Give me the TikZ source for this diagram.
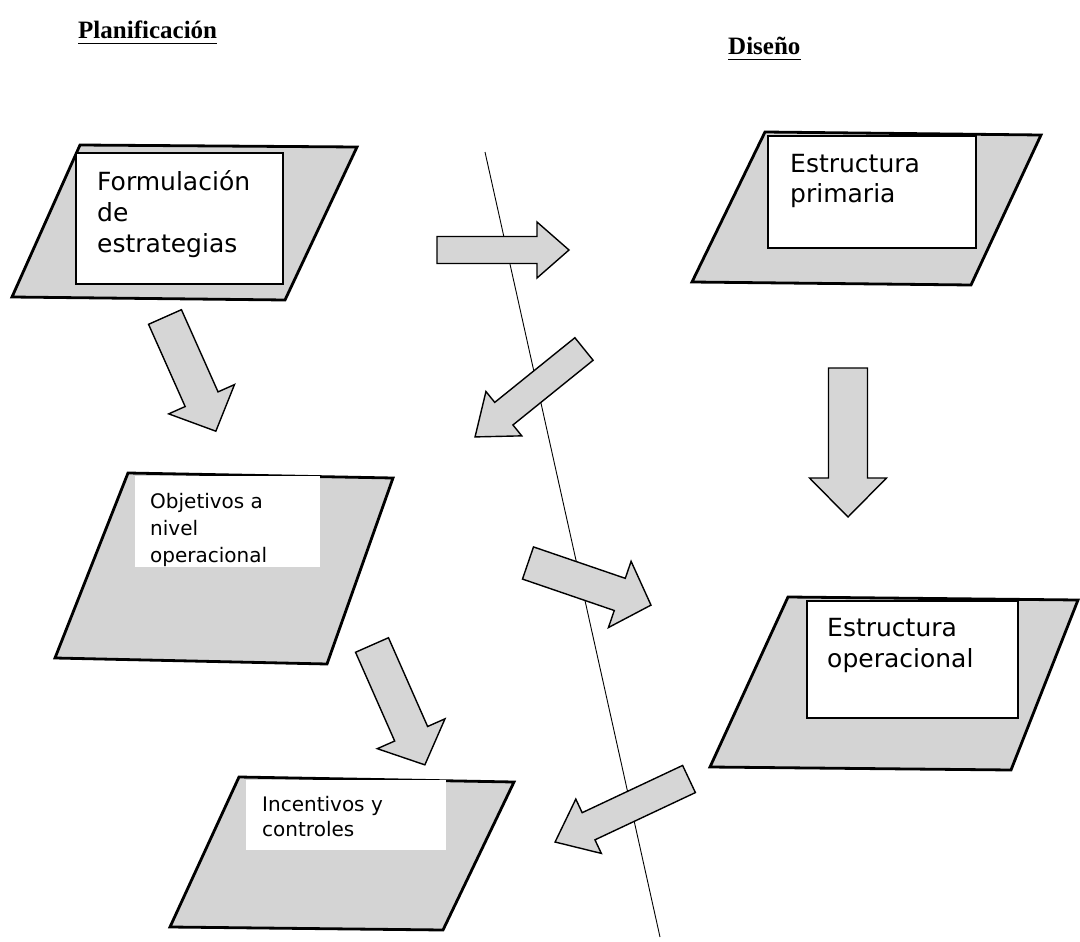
\documentclass[tikz,border=0pt]{standalone}
\usepackage{fontspec}
\setmainfont{Liberation Serif}
\newfontfamily\boxfont{DejaVu Sans}
\newcommand\blockarrow[7]{% tail x, tail y, angle, length, shaft width, head width, head length
  \begin{scope}[shift={(#1,#2)},rotate=#3]
    \draw[blockarr] (0,{-#5/2}) -- ({#4-#7},{-#5/2}) -- ({#4-#7},{-#6/2}) -- (#4,0)
      -- ({#4-#7},{#6/2}) -- ({#4-#7},{#5/2}) -- (0,{#5/2}) -- cycle;
  \end{scope}}
\tikzset{
  para/.style={draw=black, line width=2.8pt, fill=black!17, line join=miter},
  blockarr/.style={draw=black, line width=1.4pt, fill=black!16, line join=miter},
  txtbox/.style={draw=black, line width=1.5pt, fill=white, inner sep=0pt, anchor=north west},
  softbox/.style={fill=white, inner sep=0pt, anchor=north west},
  divider/.style={draw=black, line width=0.9pt},
  head/.style={font=\bfseries\fontsize{25}{29}\selectfont, inner sep=0pt, anchor=base west},
  uline/.style={draw=black, line width=1.8pt},
  bigtxt/.style={font=\boxfont\fontsize{25}{31}\selectfont, inner sep=0pt, anchor=north west, align=left},
  smalltxt/.style={font=\boxfont\fontsize{20}{27}\selectfont, inner sep=0pt, anchor=north west, align=left},
}
\begin{document}
\begin{tikzpicture}[x=1pt,y=-1pt]
\useasboundingbox[fill=white] (0,0) rectangle (1080,942);

% headings
\node[head] (plan) at (78,39) {Planificación};
\draw[uline] ([yshift=-4.5pt]plan.base west) -- ([yshift=-4.5pt]plan.base east);
\node[head] (dis) at (728,55) {Diseño};
\draw[uline] ([yshift=-4.5pt]dis.base west) -- ([yshift=-4.5pt]dis.base east);

% dividing line
\coordinate (divtop) at (485,152);
\coordinate (divbot) at (660,937);
\draw[divider] (divtop) -- (divbot);

% Formulacion de estrategias
\draw[para] (80,145) -- (357,147) -- (285,300) -- (12,297) -- cycle;
\node[txtbox, minimum width=207pt, minimum height=131pt] (formbox) at (75,152) {};
\node[bigtxt] (formtxt) at (97,170) {Formulación\\de\\estrategias};

% Estructura primaria
\draw[para] (765,132) -- (1041,135) -- (971,285) -- (692,282) -- cycle;
\node[txtbox, minimum width=208pt, minimum height=112pt] (primbox) at (767,135) {};
\node[bigtxt, font=\boxfont\fontsize{25}{30}\selectfont] (primtxt) at (790,154) {Estructura\\primaria};

% Objetivos a nivel operacional
\draw[para] (128,473) -- (393,478) -- (327,664) -- (55,658) -- cycle;
\node[softbox, minimum width=185pt, minimum height=91pt] (objbox) at (135,476) {};
\node[smalltxt] (objtxt) at (150,493) {Objetivos a\\nivel\\operacional};

% Estructura operacional
\draw[para] (788,597) -- (1078,600) -- (1011,770) -- (710,767) -- cycle;
\node[txtbox, minimum width=211pt, minimum height=117pt] (opbox) at (806,600) {};
\node[bigtxt] (optxt) at (827,618) {Estructura\\operacional};

% Incentivos y controles
\draw[para] (239,777) -- (514,782) -- (443,930) -- (170,927) -- cycle;
\node[softbox, minimum width=200pt, minimum height=70pt] (incbox) at (246,780) {};
\node[smalltxt, font=\boxfont\fontsize{20}{25}\selectfont] (inctxt) at (262,796) {Incentivos y\\controles};

% block arrows
\blockarrow{165}{317}{-66}{125}{36}{72}{35}
\blockarrow{437}{250}{0}{132}{27}{56}{32}
\blockarrow{584}{349}{-141.1}{140}{29}{57}{37}
\blockarrow{848}{368}{-90}{149}{39}{77}{39}
\blockarrow{372}{645}{-66.2}{131}{36}{74}{34}
\blockarrow{528}{563}{-18.9}{130}{34}{70}{33}
\blockarrow{689}{779}{-154.8}{148}{30}{60}{37}
\end{tikzpicture}
\end{document}
